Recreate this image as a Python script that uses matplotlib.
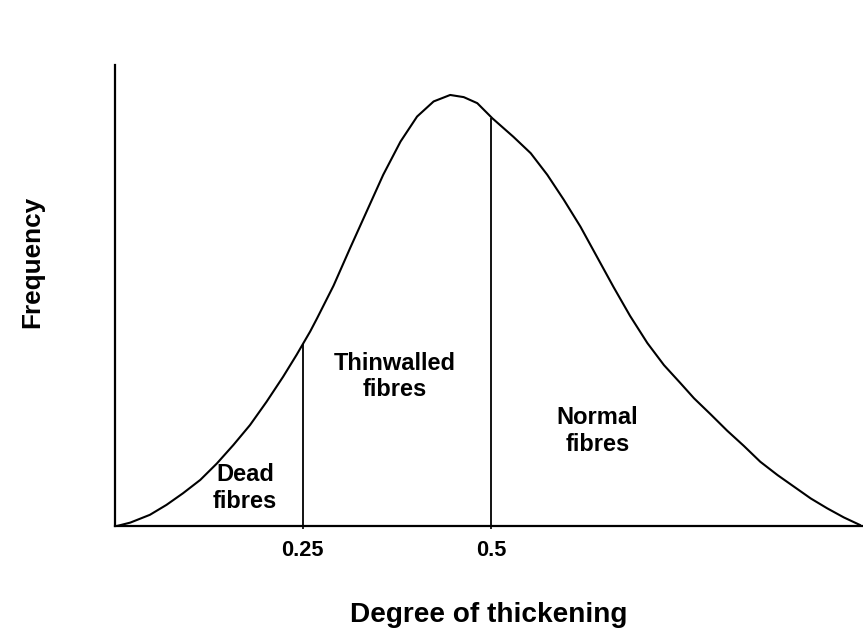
import matplotlib
matplotlib.use("Agg")
import matplotlib.pyplot as plt

plt.rcParams['font.family'] = ['Liberation Sans', 'DejaVu Sans']

# Curve (degree of thickening, relative frequency)
curve_x = [0.000, 0.003, 0.021, 0.047, 0.069, 0.091, 0.114, 0.136, 0.158, 0.180,
           0.202, 0.224, 0.242, 0.250, 0.260, 0.269, 0.291, 0.313, 0.335, 0.357,
           0.380, 0.402, 0.424, 0.446, 0.464, 0.482, 0.502, 0.530, 0.553, 0.575,
           0.597, 0.619, 0.641, 0.663, 0.685, 0.708, 0.730, 0.752, 0.770, 0.792,
           0.814, 0.836, 0.858, 0.881, 0.903, 0.925, 0.947, 0.969, 0.991]
curve_y = [0.000, 0.001, 0.009, 0.027, 0.050, 0.077, 0.108, 0.146, 0.189, 0.235,
           0.289, 0.347, 0.398, 0.422, 0.452, 0.482, 0.558, 0.645, 0.730, 0.815,
           0.892, 0.950, 0.985, 1.000, 0.995, 0.981, 0.946, 0.903, 0.865, 0.815,
           0.757, 0.695, 0.625, 0.555, 0.488, 0.425, 0.374, 0.332, 0.297, 0.260,
           0.222, 0.187, 0.150, 0.119, 0.092, 0.065, 0.042, 0.021, 0.003]

cut_x = [0.25, 0.5]
cut_y = [0.422, 0.946]
tick_vals = [0.25, 0.5]
tick_labels = ["0.25", "0.5"]

region_labels = ["Dead\nfibres", "Thinwalled\nfibres", "Normal\nfibres"]
region_x = [0.1735, 0.3717, 0.6417]
region_y = [0.089, 0.3476, 0.2213]

fig = plt.figure(figsize=(8.63, 6.29), dpi=100)
ax = fig.add_axes([0.1327, 0.163, 0.866, 0.7337])

ax.plot(curve_x, curve_y, color='black', lw=1.5, solid_capstyle='round',
        solid_joinstyle='round')
ax.vlines(cut_x, 0, cut_y, color='black', lw=1.3)

ax.set_xlim(0, 0.993)
ax.set_ylim(0, 1.0695)

for s in ['top', 'right']:
    ax.spines[s].set_visible(False)
for s in ['left', 'bottom']:
    ax.spines[s].set_linewidth(1.6)

ax.set_yticks([])
ax.set_xticks(tick_vals)
ax.set_xticklabels(tick_labels, fontsize=15.7, fontweight='bold')
ax.tick_params(axis='x', length=2.5, width=1.2, pad=7.5)

for t, xx, yy in zip(region_labels, region_x, region_y):
    ax.text(xx, yy, t, ha='center', va='center', fontsize=17, fontweight='bold',
            linespacing=1.18)

fig.text(0.566, 1 - 622 / 629, "Degree of thickening", ha='center', va='baseline',
         fontsize=20.2, fontweight='bold')
fig.text(0.037, 0.583, "Frequency", ha='center', va='center', rotation=90,
         fontsize=18.8, fontweight='bold')

fig.savefig("out.png", dpi=100)
